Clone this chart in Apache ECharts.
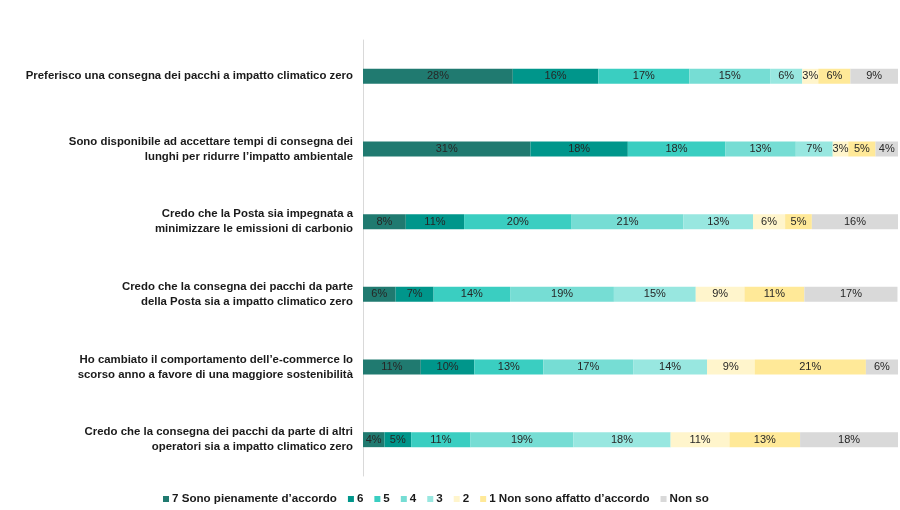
<!DOCTYPE html>
<html><head><meta charset="utf-8">
<script src="https://cdn.jsdelivr.net/npm/echarts@6/dist/echarts.min.js"></script>
<style>html,body{margin:0;padding:0;background:#fff}#c{width:900px;height:510px}</style>
</head><body><div id="c"></div>
<script>
const categories = [
  'Preferisco una consegna dei pacchi a impatto climatico zero',
  'Sono disponibile ad accettare tempi di consegna dei\nlunghi per ridurre l\u2019impatto ambientale',
  'Credo che la Posta sia impegnata a\nminimizzare le emissioni di carbonio',
  'Credo che la consegna dei pacchi da parte\ndella Posta sia a impatto climatico zero',
  'Ho cambiato il comportamento dell\u2019e-commerce lo\nscorso anno a favore di una maggiore sostenibilit\u00e0',
  'Credo che la consegna dei pacchi da parte di altri\noperatori sia a impatto climatico zero'
];
const seriesNames = ['7 Sono pienamente d\u2019accordo','6','5','4','3','2','1 Non sono affatto d\u2019accordo','Non so'];
const s7 = [28.0, 31.3, 8.0, 6.1, 10.8, 4.0];
const s6 = [16.0, 18.2, 10.9, 7.1, 10.0, 5.0];
const s5 = [17.0, 18.2, 20.1, 14.3, 12.9, 11.1];
const s4 = [15.1, 13.2, 20.9, 19.4, 16.8, 19.2];
const s3 = [6.0, 6.9, 13.0, 15.3, 13.8, 18.2];
const s2 = [3.0, 2.9, 6.0, 9.1, 8.9, 11.0];
const s1 = [6.0, 5.1, 5.0, 11.2, 20.8, 13.2];
const sNo = [9.0, 4.2, 16.1, 17.4, 6.0, 18.3];
const colors = ['#207a70','#00968b','#3acec1','#76ddd4','#98e7e0','#fff5cc','#ffe998','#d9d9d9'];
const allData = [s7,s6,s5,s4,s3,s2,s1,sNo];

const chart = echarts.init(document.getElementById('c'), null, {renderer:'canvas'});
chart.setOption({
  animation:false,
  color: colors,
  grid:{left:363, right:2, top:40, bottom:34, containLabel:false},
  legend:{
    top:488, left:158,
    itemWidth:6, itemHeight:6, itemGap:11, icon:'rect',
    textStyle:{fontFamily:'Liberation Sans', fontWeight:'bold', fontSize:11.6, color:'#1a1a1a', padding:[0,0,0,-2]},
    data: seriesNames
  },
  xAxis:{type:'value', min:0, max:100, show:false},
  yAxis:{
    type:'category', inverse:true, data:categories,
    axisLine:{show:true, lineStyle:{color:'#d9d9d9', width:1}},
    axisTick:{show:false},
    axisLabel:{fontFamily:'Liberation Sans', fontWeight:'bold', fontSize:11.4, color:'#1a1a1a', margin:10, lineHeight:15, align:'right'}
  },
  series: seriesNames.map((n,i)=>({
    name:n, type:'bar', stack:'t', barWidth:15, data:allData[i],
    itemStyle:{color:colors[i]},
    label:{show:true, position:'inside', fontFamily:'Liberation Sans', fontSize:11, color:'#262626',
      formatter: p => Math.round(p.value)+'%'}
  }))
});
</script></body></html>
